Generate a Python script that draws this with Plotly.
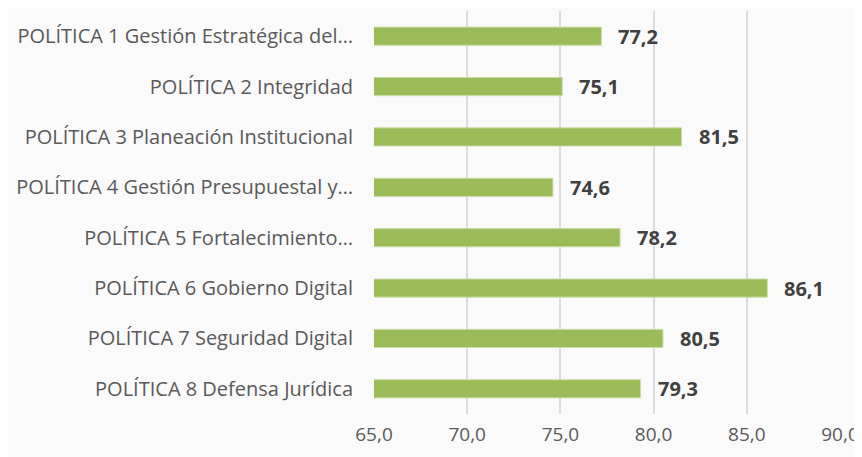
import plotly.graph_objects as go

categories = [
    "POLÍTICA 1 Gestión Estratégica del…",
    "POLÍTICA 2 Integridad",
    "POLÍTICA 3 Planeación Institucional",
    "POLÍTICA 4 Gestión Presupuestal y…",
    "POLÍTICA 5 Fortalecimiento…",
    "POLÍTICA 6 Gobierno Digital",
    "POLÍTICA 7 Seguridad Digital",
    "POLÍTICA 8 Defensa Jurídica",
]
values = [77.2, 75.1, 81.5, 74.6, 78.2, 86.1, 80.5, 79.3]
tick_vals = [65, 70, 75, 80, 85, 90]
tick_text = ["65,0", "70,0", "75,0", "80,0", "85,0", "90,0"]

fig = go.Figure()
fig.add_trace(go.Bar(
    x=values, y=categories, orientation="h",
    base=0,
    marker=dict(color="#9BBB59", line=dict(color="#C9DCA6", width=1)),
    width=0.36, hoverinfo="skip",
))

for c, v in zip(categories, values):
    fig.add_annotation(
        x=v, y=c, text="<b>" + f"{v:.1f}".replace(".", ",") + "</b>",
        xanchor="left", yanchor="middle", xshift=15, yshift=0, showarrow=False,
        font=dict(family="Open Sans", size=20, color="#404040"),
    )

# page body adds an 8px offset; the figure is sized to fill the rest of the window
fig.update_layout(
    width=854, height=449,
    margin=dict(l=366, r=22, t=3, b=43, autoexpand=False),
    paper_bgcolor="#fafafa", plot_bgcolor="rgba(0,0,0,0)",
    showlegend=False,
)
fig.update_xaxes(
    range=[65, 90], tickvals=tick_vals, ticktext=tick_text,
    showgrid=True, gridcolor="#DCDCDC", gridwidth=2,
    zeroline=False, showline=False, ticks="", automargin=False,
    tickfont=dict(family="Open Sans", size=19, color="#595959"),
    ticklabelstandoff=7,
)
fig.update_yaxes(
    categoryorder="array", categoryarray=categories[::-1],
    showgrid=False, showline=False, ticks="", automargin=False,
    tickfont=dict(family="Open Sans", size=20, color="#595959"),
    ticklabelstandoff=20,
)

fig.write_html("out.html")
